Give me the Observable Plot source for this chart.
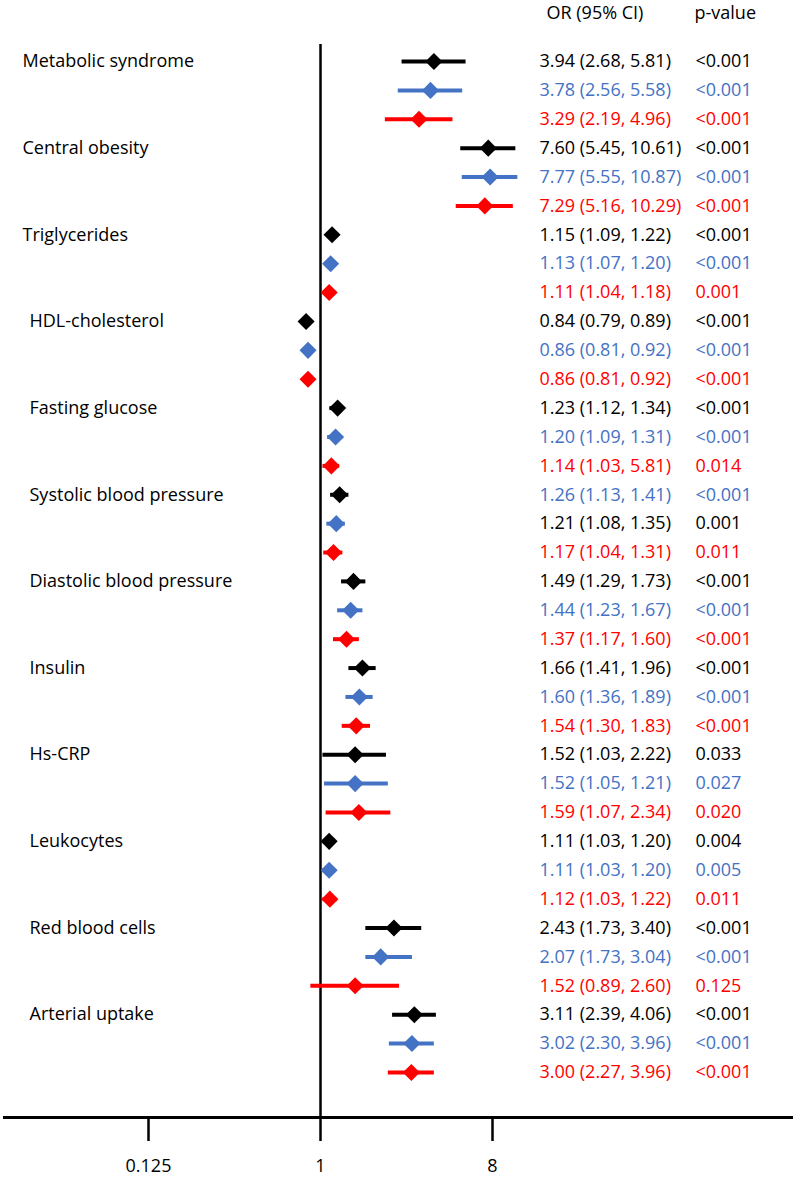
<!DOCTYPE html>
<html><head><meta charset="utf-8">
<script src="https://cdn.jsdelivr.net/npm/d3@7"></script>
<script src="https://cdn.jsdelivr.net/npm/@observablehq/plot@0.6"></script>
<style>body{margin:0;background:#fff;}</style>
</head><body><div id="chart"></div>
<script>
const categories = ["Metabolic syndrome","Central obesity","Triglycerides","HDL-cholesterol","Fasting glucose","Systolic blood pressure","Diastolic blood pressure","Insulin","Hs-CRP","Leukocytes","Red blood cells","Arterial uptake"];
const models = ["Model 1","Model 2","Model 3"];
const modelColors = ["#000000","#4472C4","#FF0000"];
// plotted odds ratios and CI (row order; marker colour cycles black, blue, red)
const orValues = [3.94,3.78,3.29, 7.60,7.77,7.29, 1.15,1.13,1.11, 0.84,0.86,0.86, 1.23,1.20,1.14, 1.26,1.21,1.17, 1.49,1.44,1.37, 1.66,1.60,1.54, 1.52,1.52,1.59, 1.11,1.11,1.12, 2.43,2.07,1.52, 3.11,3.02,3.00];
const ciLow = [2.68,2.56,2.19, 5.45,5.55,5.16, 1.09,1.07,1.04, 0.79,0.81,0.81, 1.12,1.09,1.03, 1.13,1.08,1.04, 1.29,1.23,1.17, 1.41,1.36,1.30, 1.03,1.05,1.07, 1.03,1.03,1.03, 1.73,1.73,0.89, 2.39,2.30,2.27];
const ciHigh = [5.81,5.58,4.96, 10.61,10.87,10.29, 1.22,1.20,1.18, 0.89,0.92,0.92, 1.34,1.31,1.26, 1.41,1.35,1.31, 1.73,1.67,1.60, 1.96,1.89,1.83, 2.22,2.27,2.34, 1.20,1.20,1.22, 3.40,3.04,2.60, 4.06,3.96,3.96];
// printed text (as in the table)
const ciLabels = ["3.94 (2.68, 5.81)","3.78 (2.56, 5.58)","3.29 (2.19, 4.96)","7.60 (5.45, 10.61)","7.77 (5.55, 10.87)","7.29 (5.16, 10.29)","1.15 (1.09, 1.22)","1.13 (1.07, 1.20)","1.11 (1.04, 1.18)","0.84 (0.79, 0.89)","0.86 (0.81, 0.92)","0.86 (0.81, 0.92)","1.23 (1.12, 1.34)","1.20 (1.09, 1.31)","1.14 (1.03, 5.81)","1.26 (1.13, 1.41)","1.21 (1.08, 1.35)","1.17 (1.04, 1.31)","1.49 (1.29, 1.73)","1.44 (1.23, 1.67)","1.37 (1.17, 1.60)","1.66 (1.41, 1.96)","1.60 (1.36, 1.89)","1.54 (1.30, 1.83)","1.52 (1.03, 2.22)","1.52 (1.05, 1.21)","1.59 (1.07, 2.34)","1.11 (1.03, 1.20)","1.11 (1.03, 1.20)","1.12 (1.03, 1.22)","2.43 (1.73, 3.40)","2.07 (1.73, 3.04)","1.52 (0.89, 2.60)","3.11 (2.39, 4.06)","3.02 (2.30, 3.96)","3.00 (2.27, 3.96)"];
const pLabels = ["<0.001","<0.001","<0.001","<0.001","<0.001","<0.001","<0.001","<0.001","0.001","<0.001","<0.001","<0.001","<0.001","<0.001","0.014","<0.001","0.001","0.011","<0.001","<0.001","<0.001","<0.001","<0.001","<0.001","0.033","0.027","0.020","0.004","0.005","0.011","<0.001","<0.001","0.125","<0.001","<0.001","<0.001"];
// colour (model) of each printed text row
const textModel = [0,1,2, 0,1,2, 0,1,2, 0,1,2, 0,1,2, 1,0,2, 0,1,2, 0,1,2, 0,1,2, 0,1,2, 0,1,2, 0,1,2];
const xTicks = [0.125, 1, 8];
const headerCI = "OR (95% CI)";
const headerP = "p-value";

const rows = orValues.map((or, i) => ({
  row: i, model: models[i % 3], or, lo: ciLow[i], hi: ciHigh[i],
  ci: ciLabels[i], p: pLabels[i], tmodel: models[textModel[i]]
}));
const cats = categories.map((c, i) => ({name: c, row: i * 3, indent: i >= 3}));
const axisRow = 36.56;
const font = "Open Sans";
const fs = 18;

const chart = Plot.plot({
  width: 797, height: 1177,
  marginLeft: 3, marginRight: 4, marginTop: 44, marginBottom: 60,
  style: {fontFamily: font, background: "#fff"},
  x: {type: "log", base: 2, domain: [0.125, 8], range: [148, 492]},
  y: {domain: [0, axisRow], range: [61, 1117], axis: null},
  color: {domain: models, range: modelColors},
  marks: [
    Plot.ruleX([1], {stroke: "#000", strokeWidth: 2.5}),
    Plot.ruleY([axisRow], {stroke: "#000", strokeWidth: 3}),
    Plot.axisX({ticks: xTicks, tickSize: 24, tickPadding: 18, strokeWidth: 2.5, fontSize: fs, tickFormat: d => String(d), label: null, fill: "#000"}),
    Plot.ruleY(rows, {y: "row", x1: "lo", x2: "hi", stroke: "model", strokeWidth: 4}),
    Plot.dot(rows, {x: "or", y: "row", symbol: "diamond2", r: 7.7, fill: "model", stroke: null}),
    Plot.text(cats.filter(d => !d.indent), {y: "row", text: "name", frameAnchor: "left", dx: 19, textAnchor: "start", fontSize: fs, fill: "#000"}),
    Plot.text(cats.filter(d => d.indent), {y: "row", text: "name", frameAnchor: "left", dx: 26, textAnchor: "start", fontSize: fs, fill: "#000"}),
    Plot.text(rows, {y: "row", text: "ci", fill: "tmodel", frameAnchor: "left", dx: 536, textAnchor: "start", fontSize: fs}),
    Plot.text(rows, {y: "row", text: "p", fill: "tmodel", frameAnchor: "left", dx: 692, textAnchor: "start", fontSize: fs}),
    Plot.text([headerCI], {frameAnchor: "top-left", dx: 543, dy: -38, textAnchor: "start", fontSize: fs, fill: "#000"}),
    Plot.text([headerP], {frameAnchor: "top-left", dx: 691, dy: -38, textAnchor: "start", fontSize: fs, fill: "#000"})
  ]
});
document.getElementById("chart").appendChild(chart);
</script></body></html>
